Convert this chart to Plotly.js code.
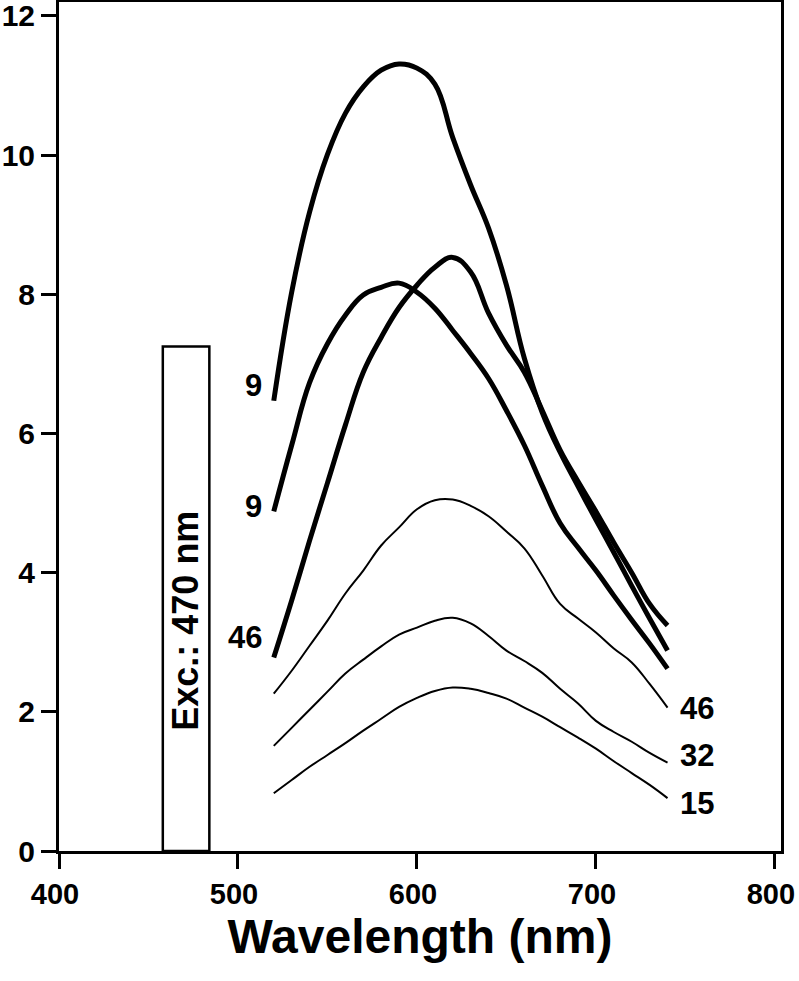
<!DOCTYPE html>
<html>
<head>
<meta charset="utf-8">
<script src="https://cdn.plot.ly/plotly-3.0.1.min.js"></script>
<style>html,body{margin:0;padding:0;background:#fff;}#chart{width:799px;height:981px;}</style>
</head>
<body>
<div id="chart"></div>
<script>
const wavelength = [520,530,540,550,560,570,580,590,600,610,620,630,640,650,660,670,680,690,700,710,720,730,740];

// thick curves
const thick9a  = [6.47,8.03,9.18,10.01,10.60,10.98,11.22,11.31,11.25,11.02,10.25,9.57,8.95,8.13,7.08,6.30,5.73,5.24,4.76,4.29,3.81,3.34,2.88];
const thick9b  = [4.88,5.83,6.73,7.29,7.70,7.99,8.10,8.16,8.03,7.80,7.48,7.15,6.79,6.33,5.83,5.25,4.71,4.36,4.03,3.67,3.32,2.98,2.62];
const thick46  = [2.78,3.60,4.46,5.29,6.12,6.88,7.38,7.81,8.13,8.39,8.53,8.32,7.73,7.27,6.88,6.33,5.76,5.31,4.88,4.43,4.00,3.55,3.24];
// thin curves
const thin46   = [2.26,2.59,2.95,3.31,3.70,4.03,4.39,4.65,4.91,5.04,5.05,4.96,4.81,4.59,4.35,3.96,3.55,3.34,3.14,2.91,2.71,2.40,2.06];
const thin32   = [1.51,1.77,2.03,2.29,2.55,2.75,2.94,3.11,3.21,3.31,3.35,3.27,3.09,2.88,2.73,2.56,2.33,2.12,1.87,1.71,1.57,1.41,1.27];
const thin15   = [0.83,1.02,1.21,1.38,1.55,1.73,1.90,2.07,2.20,2.30,2.35,2.33,2.27,2.19,2.06,1.93,1.78,1.63,1.47,1.29,1.12,0.95,0.76];

const leftLabels  = ["9","9","46"];
const rightLabels = ["46","32","15"];

const excBand = [458, 484];   // excitation band limits (nm)
const excHeight = 7.25;
const excText = "Exc.: 470 nm";

const xTicks = [400,500,600,700,800];
const yTicks = [0,2,4,6,8,10,12];

const FONT = "Liberation Sans, Arial, sans-serif";

function tr(y, w) {
  return {x: wavelength, y: y, type: "scatter", mode: "lines",
          line: {color: "#000", width: w, shape: "spline", smoothing: 1.2},
          showlegend: false, hoverinfo: "skip"};
}
const thickSeries = [thick9a, thick9b, thick46];
const thinSeries = [thin46, thin32, thin15];
const data = [];
thickSeries.forEach(s => data.push(tr(s, 5)));
thinSeries.forEach(s => data.push(tr(s, 2)));

const n = wavelength.length - 1;
const annotations = [];
const leftShift = [15, 5, 20];
thickSeries.forEach((s, i) => annotations.push({
  x: wavelength[0], y: s[0], xref: "x", yref: "y", text: "<b>" + leftLabels[i] + "</b>",
  showarrow: false, xanchor: "right", yanchor: "middle", xshift: -10, yshift: leftShift[i],
  font: {family: FONT, size: 31, color: "#000"}
}));
const rightShift = [-1, 7, -5];
thinSeries.forEach((s, i) => annotations.push({
  x: wavelength[n], y: s[n], xref: "x", yref: "y", text: "<b>" + rightLabels[i] + "</b>",
  showarrow: false, xanchor: "left", yanchor: "middle", xshift: 10, yshift: rightShift[i],
  font: {family: FONT, size: 31, color: "#000"}
}));
annotations.push({
  x: (excBand[0] + excBand[1]) / 2, y: 3.31, xref: "x", yref: "y",
  text: "<b>" + excText + "</b>", textangle: -90, showarrow: false,
  xanchor: "center", yanchor: "middle",
  font: {family: FONT, size: 36, color: "#000"}
});

const layout = {
  width: 799, height: 981,
  margin: {l: 59, r: 18, t: 2, b: 130},
  paper_bgcolor: "#fff", plot_bgcolor: "#fff",
  font: {family: FONT, color: "#000"},
  xaxis: {
    range: [400, 803.4], tickvals: xTicks, ticktext: xTicks.map(v => "<b>" + v + "</b>"),
    showgrid: false, zeroline: false, showline: true, linewidth: 3, linecolor: "#000",
    mirror: true, ticks: "outside", ticklen: 15, tickwidth: 3, tickcolor: "#000",
    ticklabeloverflow: "allow", ticklabelshift: -4,
    tickfont: {family: FONT, size: 29, color: "#000"},
    title: {text: "<b>Wavelength (nm)</b>", font: {family: FONT, size: 48, color: "#000"}, standoff: 8}
  },
  yaxis: {
    range: [0, 12.2], tickvals: yTicks, ticktext: yTicks.map(v => "<b>" + v + "</b>"),
    showgrid: false, zeroline: false, showline: true, linewidth: 3, linecolor: "#000",
    mirror: true, ticks: "outside", ticklen: 15, tickwidth: 3, tickcolor: "#000",
    ticklabelstandoff: 0, ticklabeloverflow: "allow",
    tickfont: {family: FONT, size: 30, color: "#000"}
  },
  shapes: [{
    type: "rect", xref: "x", yref: "y", x0: excBand[0], x1: excBand[1], y0: 0, y1: excHeight,
    line: {color: "#000", width: 2.5}, fillcolor: "rgba(0,0,0,0)"
  }],
  annotations: annotations
};

Plotly.newPlot("chart", data, layout, {staticPlot: true, displayModeBar: false});
</script>
</body>
</html>
